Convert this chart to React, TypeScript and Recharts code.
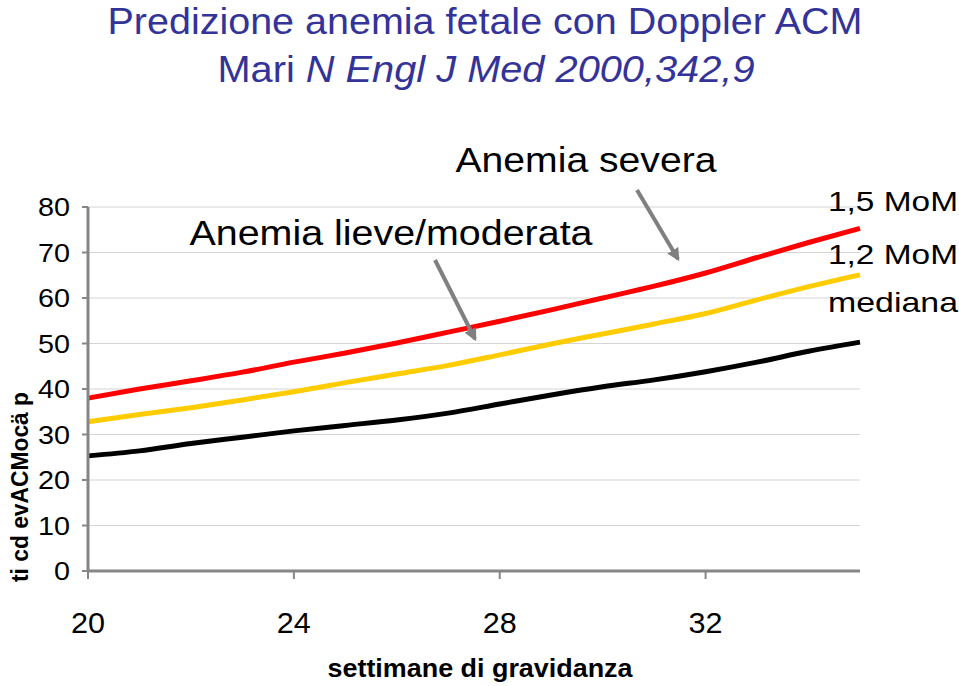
import React from "react";
import { LineChart, Line, XAxis, YAxis, CartesianGrid } from "recharts";

// weeks of gestation
const weeks = [20, 21, 22, 23, 24, 25, 26, 27, 28, 29, 30, 31, 32, 33, 34, 35];
// MCA peak systolic velocity (cm/s)
const mediana = [25.3, 26.4, 28.0, 29.4, 30.8, 32.0, 33.2, 34.7, 36.7, 38.7, 40.5, 42.0, 43.8, 45.9, 48.3, 50.3];
const mom12 = [32.8, 34.4, 35.9, 37.6, 39.4, 41.4, 43.3, 45.2, 47.5, 49.9, 52.1, 54.3, 56.6, 59.6, 62.5, 65.1];
const mom15 = [38.0, 40.0, 41.8, 43.7, 45.9, 47.9, 50.1, 52.5, 54.9, 57.4, 60.0, 62.6, 65.5, 68.9, 72.2, 75.3];

const xTicks = [20, 24, 28, 32];
const yTicks = [0, 10, 20, 30, 40, 50, 60, 70, 80];

const data = weeks.map((w, i) => ({
  week: w,
  mediana: mediana[i],
  mom12: mom12[i],
  mom15: mom15[i],
}));

const FONT = "'Liberation Sans', Arial, sans-serif";
const AXIS_GRAY = "#868686";

const XTick = ({ x, y, payload }: any) => (
  <text
    x={x}
    y={y}
    dy={17}
    textAnchor="middle"
    fontFamily={FONT}
    fontSize={30}
    fill="#000"
    textLength={34}
    lengthAdjust="spacingAndGlyphs"
  >
    {payload.value}
  </text>
);

const YTick = ({ x, y, payload }: any) => (
  <text
    x={x}
    y={y}
    dy={9}
    textAnchor="end"
    fontFamily={FONT}
    fontSize={26}
    fill="#000"
    textLength={String(payload.value).length * 16}
    lengthAdjust="spacingAndGlyphs"
  >
    {payload.value}
  </text>
);

export default function App() {
  return (
    <div
      style={{
        position: "absolute",
        left: 0,
        top: 0,
        width: 959,
        height: 686,
        background: "#fff",
      }}
    >
      <LineChart
        width={959}
        height={686}
        data={data}
        margin={{ top: 207, right: 99, bottom: 55, left: 0 }}
      >
        <CartesianGrid horizontal vertical={false} stroke="#d4d4d4" strokeWidth={1} />
        <XAxis
          dataKey="week"
          type="number"
          domain={[20, 35]}
          ticks={xTicks}
          height={60}
          axisLine={{ stroke: AXIS_GRAY, strokeWidth: 3 }}
          tickLine={{ stroke: AXIS_GRAY, strokeWidth: 2 }}
          tickSize={8}
          tickMargin={37}
          tick={<XTick />}
        />
        <YAxis
          type="number"
          domain={[0, 80]}
          ticks={yTicks}
          width={88}
          axisLine={{ stroke: AXIS_GRAY, strokeWidth: 3 }}
          tickLine={{ stroke: AXIS_GRAY, strokeWidth: 2 }}
          tickSize={6}
          tickMargin={12}
          tick={<YTick />}
        />
        <Line dataKey="mediana" stroke="#000000" strokeWidth={5} dot={false} type="monotone" isAnimationActive={false} />
        <Line dataKey="mom12" stroke="#ffcc00" strokeWidth={5} dot={false} type="monotone" isAnimationActive={false} />
        <Line dataKey="mom15" stroke="#ff0000" strokeWidth={5} dot={false} type="monotone" isAnimationActive={false} />
      </LineChart>

      <svg
        width={959}
        height={686}
        style={{ position: "absolute", left: 0, top: 0, pointerEvents: "none" }}
      >
        <defs>
          <marker id="arrow" viewBox="0 0 10 10" refX="8" refY="5" markerWidth="3.2" markerHeight="3.2" orient="auto">
            <path d="M0,0 L10,5 L0,10 z" fill="#808080" />
          </marker>
        </defs>

        {/* title */}
        <text x={485} y={34} textAnchor="middle" fontFamily={FONT} fontSize={36} fill="#333399" textLength={755} lengthAdjust="spacingAndGlyphs">
          Predizione anemia fetale con Doppler ACM
        </text>
        <text x={486} y={82} textAnchor="middle" fontFamily={FONT} fontSize={36} fill="#333399" textLength={537} lengthAdjust="spacingAndGlyphs">
          Mari <tspan fontStyle="italic">N Engl J Med 2000,342,9</tspan>
        </text>

        {/* annotations */}
        <text x={586} y={172} textAnchor="middle" fontFamily={FONT} fontSize={35} fill="#000" textLength={261} lengthAdjust="spacingAndGlyphs">
          Anemia severa
        </text>
        <text x={391} y={245} textAnchor="middle" fontFamily={FONT} fontSize={35} fill="#000" textLength={403} lengthAdjust="spacingAndGlyphs">
          Anemia lieve/moderata
        </text>
        <line x1={637} y1={190} x2={678} y2={259} stroke="#808080" strokeWidth={4} markerEnd="url(#arrow)" />
        <line x1={435} y1={260} x2={475} y2={339} stroke="#808080" strokeWidth={4} markerEnd="url(#arrow)" />

        {/* series labels */}
        <text x={828} y={211} fontFamily={FONT} fontSize={28} fill="#000" textLength={130} lengthAdjust="spacingAndGlyphs">
          1,5 MoM
        </text>
        <text x={828} y={264} fontFamily={FONT} fontSize={28} fill="#000" textLength={130} lengthAdjust="spacingAndGlyphs">
          1,2 MoM
        </text>
        <text x={828} y={312} fontFamily={FONT} fontSize={28} fill="#000" textLength={130} lengthAdjust="spacingAndGlyphs">
          mediana
        </text>

        {/* axis titles */}
        <text x={480} y={677} textAnchor="middle" fontFamily={FONT} fontWeight="bold" fontSize={26} fill="#000" textLength={305} lengthAdjust="spacingAndGlyphs">
          settimane di gravidanza
        </text>
        <text
          transform="translate(28, 487) rotate(-90)"
          x={0}
          y={0}
          textAnchor="middle"
          fontFamily={FONT}
          fontWeight="bold"
          fontSize={23}
          fill="#000"
          textLength={190}
          lengthAdjust="spacingAndGlyphs"
        >
          ti cd evACMocä p
        </text>
      </svg>
    </div>
  );
}
